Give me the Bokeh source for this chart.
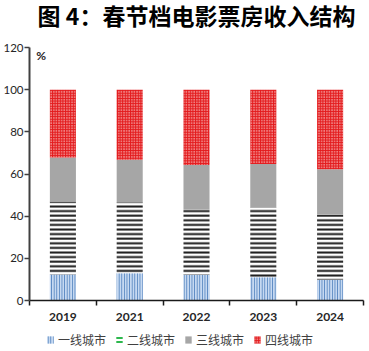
import numpy as np
from bokeh.plotting import figure
from bokeh.layouts import column
from bokeh.models import (Range1d, FixedTicker, Legend, LegendItem, Label, ColumnDataSource)
from bokeh.embed import file_html
from bokeh.resources import INLINE

title_text = "图 4：春节档电影票房收入结构"
years = ["2019", "2021", "2022", "2023", "2024"]
tier1 = [12.3, 12.9, 12.2, 11.0, 9.8]
tier2 = [34.7, 33.7, 30.9, 33.1, 31.1]
tier3 = [20.8, 20.1, 21.2, 20.7, 21.3]
tier4 = [32.2, 33.3, 35.7, 35.2, 37.8]
names = ["一线城市", "二线城市", "三线城市", "四线城市"]
y_ticks = [0, 20, 40, 60, 80, 100, 120]

NUM = "Lato"
CJK = "Noto Sans CJK SC"

def blank_fig(h):
    f = figure(width=369, height=h, output_backend="svg", toolbar_location=None,
               x_range=Range1d(0, 1), y_range=Range1d(0, 1),
               x_axis_type=None, y_axis_type=None,
               min_border=0, min_border_left=0, min_border_right=0, min_border_top=0, min_border_bottom=0)
    f.outline_line_color = None
    f.grid.grid_line_color = None
    return f

# title strip (its frame is aligned with the main plot's frame by the column layout)
tf = blank_fig(33)
tf.add_layout(Label(x=0.5, y=0.55, text=title_text, text_align="center", text_baseline="middle",
                    text_font=CJK, text_font_size="23px", text_font_style="bold", text_color="#000000"))

p = figure(width=369, height=293, output_backend="svg", toolbar_location=None,
           x_range=Range1d(0, len(years)), y_range=Range1d(0, 120),
           min_border_left=28, min_border_right=6, min_border_top=14, min_border_bottom=26)
p.outline_line_color = None
p.grid.grid_line_color = None
p.background_fill_color = "white"

xs = np.arange(len(years)) + 0.5
series = [np.array(tier1), np.array(tier2), np.array(tier3), np.array(tier4)]
tops = np.cumsum(series, axis=0)
bottoms = tops - np.array(series)

styles = [
    dict(fill_color="#c6d9f1", hatch_pattern="vertical_line", hatch_color="#4f81bd", hatch_scale=2.6, hatch_weight=1),
    dict(fill_color="#ffffff", hatch_pattern="horizontal_line", hatch_color="#1a1a1a", hatch_scale=4.6, hatch_weight=2),
    dict(fill_color="#a6a6a6"),
    dict(fill_color="#e31a1c", hatch_pattern="dot", hatch_color="#ffffff", hatch_scale=2.6, hatch_weight=1),
]
legend_styles = [
    styles[0],
    dict(fill_color="#ffffff", hatch_pattern="horizontal_line", hatch_color="#2db84d", hatch_scale=4, hatch_weight=2),
    styles[2],
    styles[3],
]
bw = 0.39
for i in range(4):
    src = ColumnDataSource(dict(x=xs, top=tops[i], bottom=bottoms[i]))
    p.vbar(x="x", top="top", bottom="bottom", width=bw, source=src, line_color=None, **styles[i])

# axes
yax = p.yaxis[0]
yax.ticker = FixedTicker(ticks=y_ticks)
yax.axis_line_color = "#404040"
yax.axis_line_width = 2
yax.major_tick_line_color = "#404040"
yax.major_tick_line_width = 1.5
yax.major_tick_in = 0
yax.major_tick_out = 5
yax.minor_tick_line_color = None
yax.major_label_text_font = NUM
yax.major_label_text_font_size = "11.5px"
yax.major_label_text_color = "#262626"
yax.major_label_standoff = 1

xax = p.xaxis[0]
xax.ticker = FixedTicker(ticks=list(xs), minor_ticks=list(range(len(years) + 1)))
xax.major_label_overrides = {float(x): y for x, y in zip(xs, years)}
xax.axis_line_color = "#1a1a1a"
xax.axis_line_width = 1.5
xax.major_tick_line_color = None
xax.minor_tick_line_color = "#1a1a1a"
xax.minor_tick_line_width = 1.5
xax.minor_tick_in = 0
xax.minor_tick_out = 5
xax.major_label_text_font = NUM
xax.major_label_text_font_size = "12px"
xax.major_label_text_font_style = "bold"
xax.major_label_text_color = "#262626"
xax.major_label_standoff = 6

p.add_layout(Label(x=0.1, y=120, text="%", text_baseline="top", text_font=NUM,
                   text_font_size="12px", text_font_style="bold", text_color="#262626"))

# legend strip
lf = blank_fig(25)
items = []
for i in range(4):
    s = ColumnDataSource(dict(x=[0.5], top=[0.0], bottom=[0.0]))
    r = lf.vbar(x="x", top="top", bottom="bottom", width=0.1, source=s, line_color=None, **legend_styles[i])
    items.append(LegendItem(label=names[i], renderers=[r], index=0))
legend = Legend(items=items, orientation="horizontal", location=(17, 3),
                label_text_font=CJK, label_text_font_size="12px", label_text_color="#404040",
                label_height=14, glyph_width=8, glyph_height=9, label_standoff=4, spacing=9,
                padding=0, margin=0, border_line_color=None, background_fill_alpha=0)
lf.add_layout(legend)

open("out.html", "w").write(file_html(column(tf, p, lf, spacing=0), INLINE))
